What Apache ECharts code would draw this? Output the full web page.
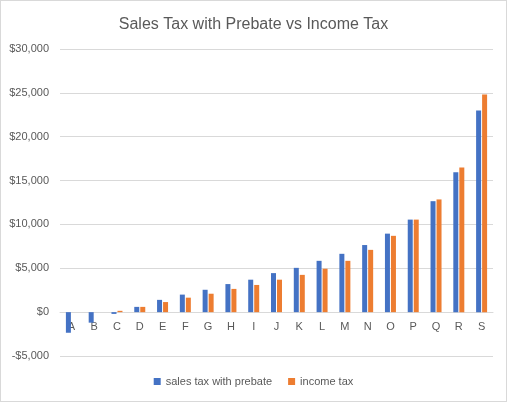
<!DOCTYPE html>
<html>
<head>
<meta charset="utf-8">
<script src="https://cdn.jsdelivr.net/npm/echarts@6/dist/echarts.min.js"></script>
<style>
  html, body { margin: 0; padding: 0; background: #fff; }
  #chart { width: 507px; height: 402px; box-sizing: border-box; border: 1px solid #d9d9d9; }
</style>
</head>
<body>
<div id="chart"></div>
<script>
const categories = ['A','B','C','D','E','F','G','H','I','J','K','L','M','N','O','P','Q','R','S'];
const salesTaxWithPrebate = [-2350, -1200, -200, 600, 1400, 2000, 2550, 3200, 3700, 4450, 5050, 5850, 6650, 7650, 8950, 10550, 12650, 15950, 23000];
const incomeTax = [0, 0, 150, 600, 1150, 1650, 2100, 2650, 3100, 3700, 4250, 4950, 5850, 7100, 8700, 10550, 12850, 16500, 24800];
const seriesNames = ['sales tax with prebate', 'income tax'];
const chartTitle = 'Sales Tax with Prebate vs Income Tax';
const yMin = -5000, yMax = 30000;

const chart = echarts.init(document.getElementById('chart'));
const font = 'Liberation Sans';
const gridTop = 48, gridBottom = 45, H = 402;
const plotH = H - gridTop - gridBottom;
const zeroOffset = -plotH * (0 - yMin) / (yMax - yMin);

chart.setOption({
  animation: false,
  title: {
    text: chartTitle,
    left: 'center',
    top: 11,
    textStyle: { fontFamily: font, fontSize: 16, fontWeight: 'normal', color: '#595959' }
  },
  legend: {
    bottom: 9,
    left: 'center',
    itemWidth: 7,
    itemHeight: 7,
    itemGap: 16,
    icon: 'rect',
    textStyle: { fontFamily: font, fontSize: 11, color: '#595959' },
    data: seriesNames
  },
  grid: { left: 59, right: 13, top: gridTop, bottom: gridBottom },
  xAxis: {
    type: 'category',
    data: categories,
    offset: zeroOffset,
    axisTick: { show: false },
    axisLine: { onZero: false, lineStyle: { color: '#d9d9d9' } },
    axisLabel: { fontFamily: font, fontSize: 11, color: '#595959', margin: 10 }
  },
  yAxis: {
    type: 'value',
    min: yMin,
    max: yMax,
    interval: 5000,
    axisLine: { show: false },
    axisTick: { show: false },
    splitLine: { lineStyle: { color: '#d9d9d9' } },
    axisLabel: {
      fontFamily: font, fontSize: 11, color: '#595959', margin: 11,
      formatter: v => (v < 0 ? '-$' : '$') + Math.abs(v).toLocaleString('en-US')
    }
  },
  series: [
    { name: seriesNames[0], type: 'bar', data: salesTaxWithPrebate, barWidth: 5, barGap: '20%', itemStyle: { color: '#4472c4' } },
    { name: seriesNames[1], type: 'bar', data: incomeTax, barWidth: 5, barGap: '20%', itemStyle: { color: '#ed7d31' } }
  ]
});
</script>
</body>
</html>
